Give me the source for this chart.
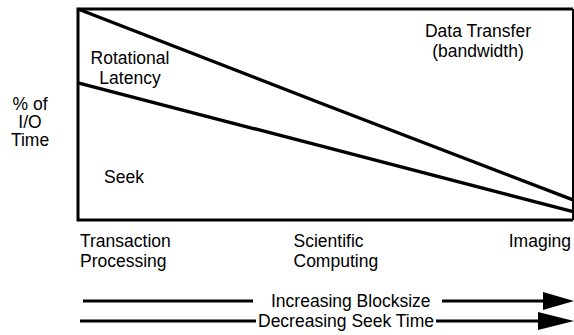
<!DOCTYPE html>
<html>
  <head>
    <meta charset="utf-8" />
    <script src="https://cdn.jsdelivr.net/npm/d3@7"></script>
    <style>
      body {
        margin: 0px;
        background: #fff;
      }
      text {
        font-family: 'Liberation Sans', Arial, sans-serif;
        font-size: 17.5px;
        fill: #000;
      }
    </style>
  </head>
  <body>
    <script>
      // workloads along the x axis
      const workloads = ['Transaction Processing', 'Scientific Computing', 'Imaging'];
      // share of I/O time (%) per workload, stacked bottom to top
      const seek = [65, 34.5, 4];
      const rotational = [35, 20, 5.5];
      const transfer = [0, 45.5, 90.5];
      const regionLabels = [
        { key: 'seek', lines: ['Seek'] },
        { key: 'rotational', lines: ['Rotational', 'Latency'] },
        { key: 'transfer', lines: ['Data Transfer', '(bandwidth)'] },
      ];
      const yLabel = ['% of', 'I/O', 'Time'];
      const arrowLabels = ['Increasing Blocksize', 'Decreasing Seek Time'];

      const width = 574;
      const height = 335;
      const margin = { left: 78, right: 1, top: 9, bottom: 115 };

      const data = workloads.map((w, i) => ({
        workload: w,
        seek: seek[i],
        rotational: rotational[i],
        transfer: transfer[i],
      }));

      const svg = d3
        .select('body')
        .append('svg')
        .attr('width', width)
        .attr('height', height);

      const xScale = d3
        .scalePoint()
        .domain(workloads)
        .range([margin.left, width - margin.right]);
      const yScale = d3
        .scaleLinear()
        .domain([0, 100])
        .range([height - margin.bottom, margin.top]);

      const stack = d3.stack().keys(['seek', 'rotational', 'transfer']);
      const series = stack(data);

      const line = d3
        .line()
        .x((d) => xScale(d.data.workload))
        .y((d) => yScale(d[1]));

      // boundaries between seek / rotational / transfer
      svg
        .selectAll('.boundary')
        .data(series.slice(0, 2))
        .enter()
        .append('path')
        .attr('class', 'boundary')
        .attr('fill', 'none')
        .attr('stroke', '#000')
        .attr('stroke-width', 3.4)
        .attr('d', line);

      // frame
      const x0 = xScale.range()[0];
      const x1 = xScale.range()[1];
      const yTop = yScale(100);
      const yBot = yScale(0);
      svg
        .append('path')
        .attr('fill', 'none')
        .attr('stroke', '#000')
        .attr('stroke-width', 3)
        .attr('d', `M${x1},${yTop}H${x0}V${yBot}H${x1}`);
      svg
        .append('line')
        .attr('x1', x1)
        .attr('x2', x1)
        .attr('y1', yTop)
        .attr('y2', yBot)
        .attr('stroke', '#000')
        .attr('stroke-width', 2);

      const addLines = (lines, x, y, anchor, step) => {
        lines.forEach((l, i) => {
          svg
            .append('text')
            .attr('x', x)
            .attr('y', y + i * step)
            .attr('text-anchor', anchor)
            .text(l);
        });
      };

      // region labels
      const labelPos = {
        seek: { x: 104, y: 183, anchor: 'start' },
        rotational: { x: 130, y: 64, anchor: 'middle' },
        transfer: { x: 478, y: 37, anchor: 'middle' },
      };
      regionLabels.forEach((r) => {
        const p = labelPos[r.key];
        addLines(r.lines, p.x, p.y, p.anchor, 19.5);
      });

      // category labels under the frame
      const catOffset = [2, -32, -2];
      const catAnchor = ['start', 'start', 'end'];
      workloads.forEach((w, i) => {
        const words = i === 2 ? [w] : w.split(' ');
        addLines(words, xScale(w) + catOffset[i], yBot + 27, catAnchor[i], 20);
      });

      // y label
      addLines(yLabel, 30, 110, 'middle', 18);

      // arrows
      const arrowY = [301, 321];
      const textX = [271, 258];
      const textEnd = [432, 435];
      arrowLabels.forEach((l, i) => {
        const y = arrowY[i];
        svg
          .append('text')
          .attr('x', textX[i])
          .attr('y', y + 6)
          .text(l);
        svg
          .append('line')
          .attr('x1', i ? 80 : 83)
          .attr('x2', textX[i] - (i ? 2 : 18))
          .attr('y1', y)
          .attr('y2', y)
          .attr('stroke', '#000')
          .attr('stroke-width', 3);
        const headX = i ? 538 : 543;
        svg
          .append('line')
          .attr('x1', textEnd[i] + (i ? 1 : 10))
          .attr('x2', headX + 2)
          .attr('y1', y)
          .attr('y2', y)
          .attr('stroke', '#000')
          .attr('stroke-width', 3);
        svg
          .append('path')
          .attr('fill', '#000')
          .attr('d', `M${headX},${y - 9}L574,${y}L${headX},${y + 9}Z`);
      });
    </script>
  </body>
</html>
